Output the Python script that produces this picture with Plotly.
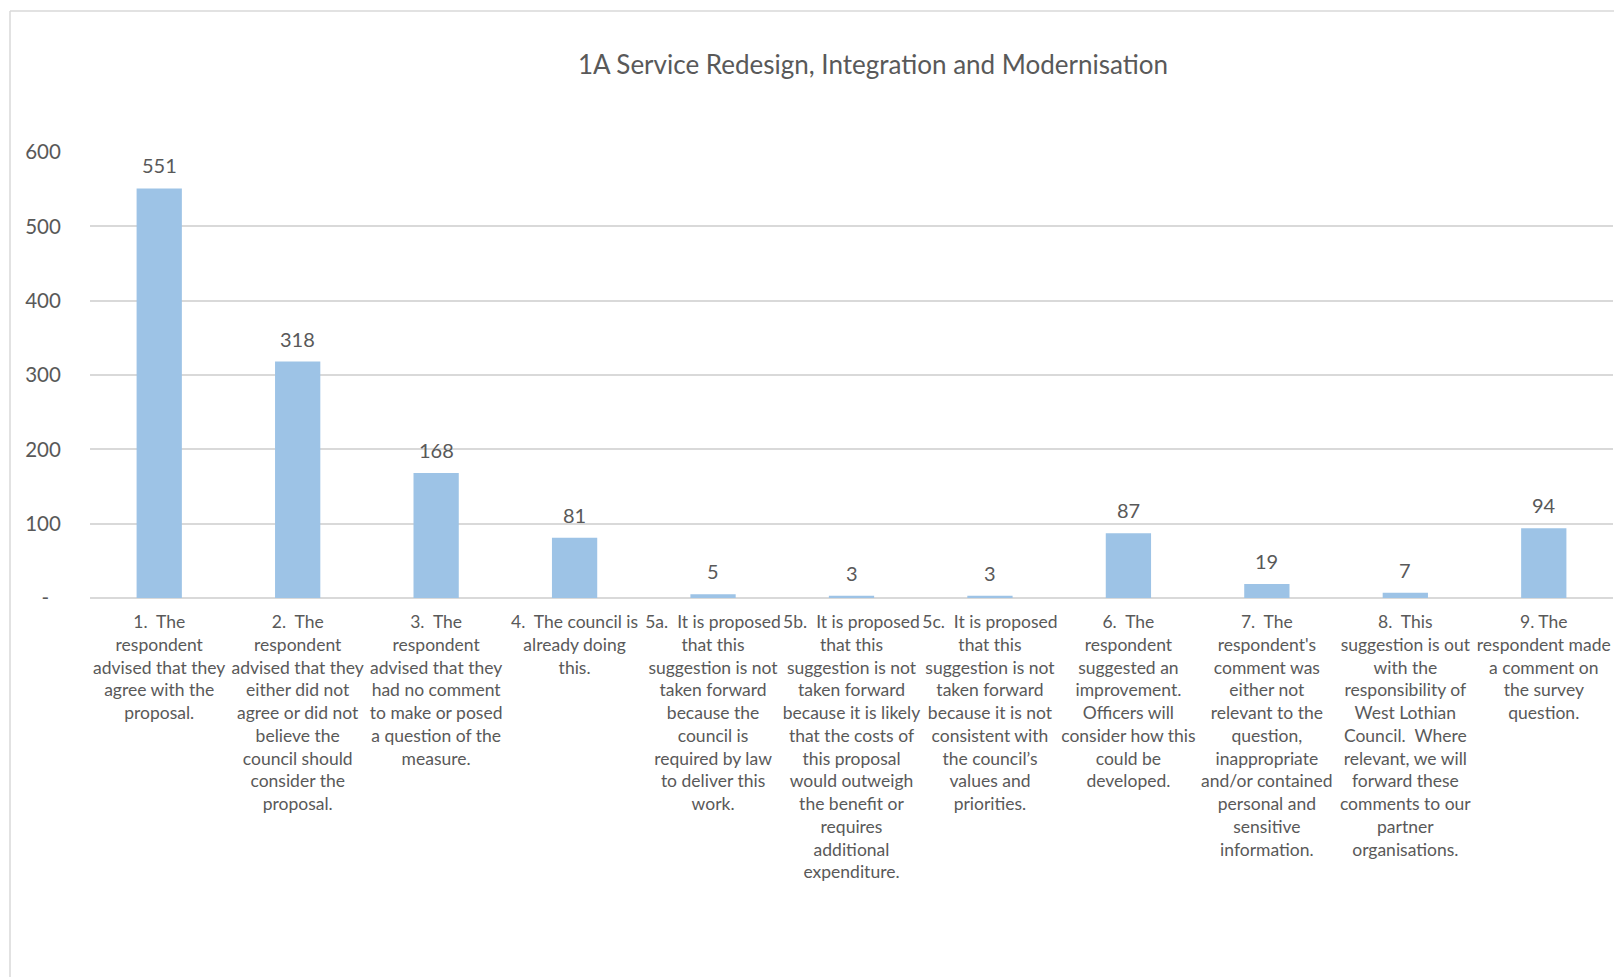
import plotly.graph_objects as go

# Survey response categories (wrapped for display under each bar)
categories = [
    "1.  The<br>respondent<br>advised that they<br>agree with the<br>proposal.",
    "2.  The<br>respondent<br>advised that they<br>either did not<br>agree or did not<br>believe the<br>council should<br>consider the<br>proposal.",
    "3.  The<br>respondent<br>advised that they<br>had no comment<br>to make or posed<br>a question of the<br>measure.",
    "4.  The council is<br>already doing<br>this.",
    "5a.  It is proposed<br>that this<br>suggestion is not<br>taken forward<br>because the<br>council is<br>required by law<br>to deliver this<br>work.",
    "5b.  It is proposed<br>that this<br>suggestion is not<br>taken forward<br>because it is likely<br>that the costs of<br>this proposal<br>would outweigh<br>the benefit or<br>requires<br>additional<br>expenditure.",
    "5c.  It is proposed<br>that this<br>suggestion is not<br>taken forward<br>because it is not<br>consistent with<br>the council’s<br>values and<br>priorities.",
    "6.  The<br>respondent<br>suggested an<br>improvement.<br>Officers will<br>consider how this<br>could be<br>developed.",
    "7.  The<br>respondent's<br>comment was<br>either not<br>relevant to the<br>question,<br>inappropriate<br>and/or contained<br>personal and<br>sensitive<br>information.",
    "8.  This<br>suggestion is out<br>with the<br>responsibility of<br>West Lothian<br>Council.  Where<br>relevant, we will<br>forward these<br>comments to our<br>partner<br>organisations.",
    "9. The<br>respondent made<br>a comment on<br>the survey<br>question.",
]

responses = [551, 318, 168, 81, 5, 3, 3, 87, 19, 7, 94]

y_tick_values = [0, 100, 200, 300, 400, 500, 600]
y_tick_labels = ["-\u2007", "100", "200", "300", "400", "500", "600"]

TEXT = "#595959"
GRID = "#d9d9d9"
FONT = "Lato"

W, H = 1614, 977
ML, MR, MT, MB = 90, 1, 152, 379
plot_w = W - ML - MR
plot_h = H - MT - MB

positions = list(range(len(categories)))

fig = go.Figure(
    go.Bar(
        x=positions,
        y=responses,
        marker=dict(color="#9dc3e6", line=dict(width=0)),
        hoverinfo="x+y",
    )
)

# value labels above each bar
for xi, v in zip(positions, responses):
    fig.add_annotation(
        x=xi, y=v, text=str(v), showarrow=False,
        xanchor="center", yanchor="middle", yshift=23,
        font=dict(family=FONT, size=20, color=TEXT),
    )

# chart-area frame (left and top edges)
def px_x(px):
    return (px - ML) / plot_w

def px_y(py):
    return (H - MB - py) / plot_h

frame = dict(color=GRID, width=1.5)
fig.add_shape(type="line", xref="paper", yref="paper",
              x0=px_x(10), x1=px_x(10), y0=px_y(11), y1=px_y(H + 5), line=frame)
fig.add_shape(type="line", xref="paper", yref="paper",
              x0=px_x(10), x1=px_x(W + 5), y0=px_y(11), y1=px_y(11), line=frame)

fig.update_layout(
    width=W,
    height=H,
    margin=dict(l=ML, r=MR, t=MT, b=MB),
    paper_bgcolor="white",
    plot_bgcolor="white",
    bargap=0.673,
    showlegend=False,
    font=dict(family=FONT, color=TEXT),
    title=dict(
        text="1A Service Redesign, Integration and Modernisation",
        x=873 / W,
        xanchor="center",
        xref="container",
        y=1 - 65 / H,
        yanchor="middle",
        yref="container",
        font=dict(family=FONT, size=26, color=TEXT),
    ),
    xaxis=dict(
        tickmode="array",
        tickvals=positions,
        ticktext=categories,
        tickangle=0,
        tickfont=dict(family=FONT, size=17.5, color=TEXT),
        range=[-0.5, len(categories) - 0.5],
        showgrid=False,
        showline=False,
        zeroline=False,
        ticks="outside",
        ticklen=8,
        tickcolor="rgba(0,0,0,0)",
    ),
    yaxis=dict(
        range=[0, 600],
        tickmode="array",
        tickvals=y_tick_values,
        ticktext=y_tick_labels,
        tickfont=dict(family=FONT, size=20.5, color=TEXT),
        showgrid=True,
        gridcolor=GRID,
        gridwidth=1.5,
        zeroline=True,
        zerolinecolor=GRID,
        zerolinewidth=2,
        showline=False,
        ticks="outside",
        ticklen=24,
        tickcolor="rgba(0,0,0,0)",
    ),
)

fig.write_html("out.html")
